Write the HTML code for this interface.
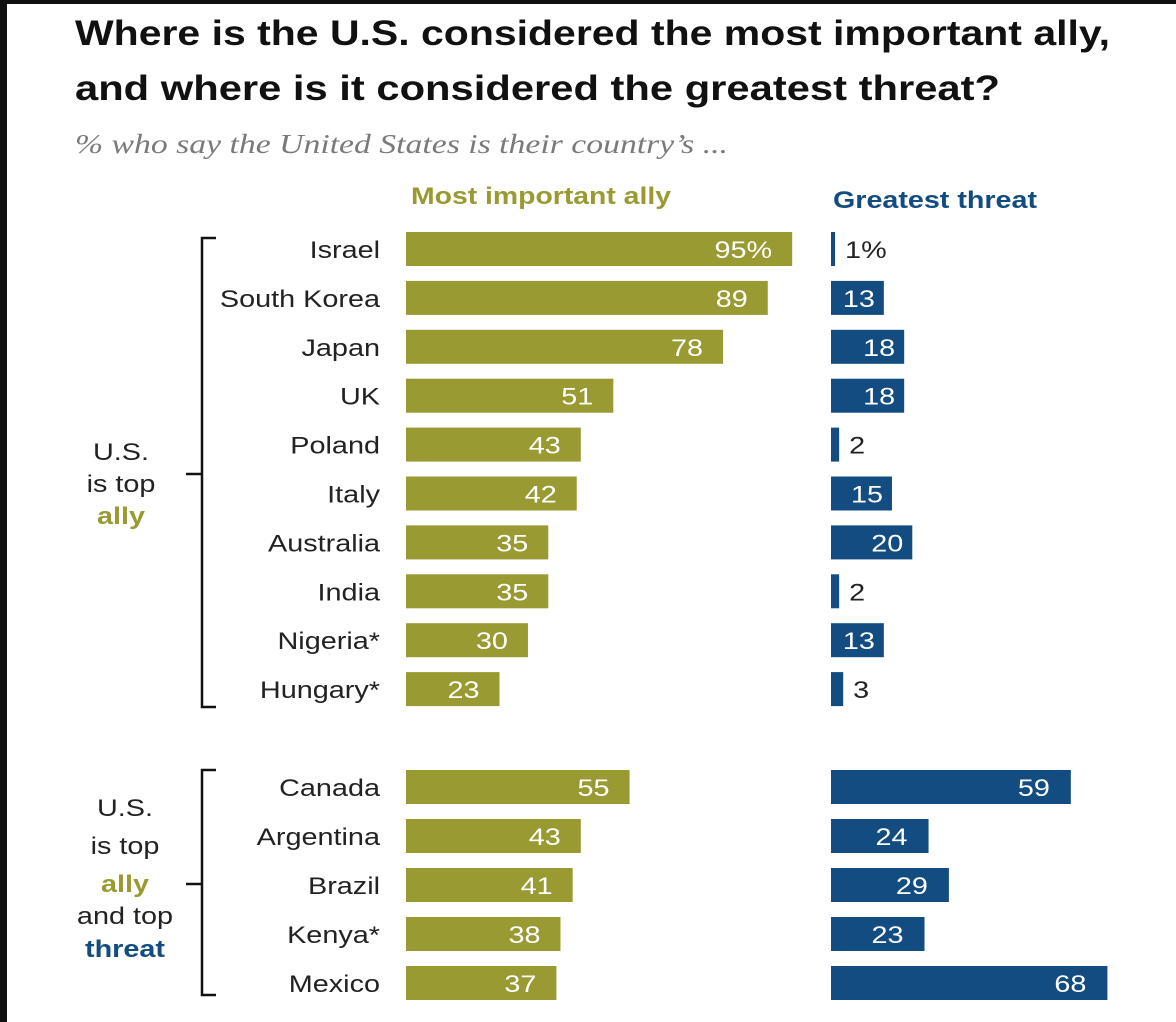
<!DOCTYPE html>
<html><head><meta charset="utf-8"><style>
html,body{margin:0;padding:0;background:#fff;}
svg{display:block;font-family:"Liberation Sans",Arial,sans-serif;}
</style></head><body>
<svg id="chart" width="1176" height="1022" viewBox="0 0 1176 1022">
<rect x="0" y="0" width="1176" height="1022" fill="#fff"/>
<rect x="0" y="0" width="1176" height="4" fill="#111"/>
<rect x="0" y="0" width="7" height="1022" fill="#111"/>
<text x="75" y="45" font-size="35" font-weight="bold" fill="#111" textLength="1035" lengthAdjust="spacingAndGlyphs">Where is the U.S. considered the most important ally,</text>
<text x="75" y="100" font-size="35" font-weight="bold" fill="#111" textLength="925" lengthAdjust="spacingAndGlyphs">and where is it considered the greatest threat?</text>
<text x="75" y="153" font-size="27" font-style="italic" fill="#7a7a7a" font-family="Liberation Serif, serif" textLength="653" lengthAdjust="spacingAndGlyphs">% who say the United States is their country’s ...</text>
<text x="411" y="204" font-size="24" font-weight="bold" fill="#9a9a33" textLength="260" lengthAdjust="spacingAndGlyphs">Most important ally</text>
<text x="833" y="208" font-size="24" font-weight="bold" fill="#134c80" textLength="204" lengthAdjust="spacingAndGlyphs">Greatest threat</text>
<g stroke="#111" stroke-width="2.5" fill="none">
<path d="M216 238 H202 V707 H216"/><path d="M202 474 H186"/>
</g>
<g stroke="#111" stroke-width="2.5" fill="none">
<path d="M216 770 H202 V995 H216"/><path d="M202 884 H186"/>
</g>
<g font-size="24" text-anchor="middle" fill="#222">
<text class="st" x="121" y="460">U.S.</text><text class="st" x="121" y="492">is top</text>
<text class="st" x="121" y="524" fill="#9a9a33" font-weight="bold">ally</text>
</g>
<g font-size="24" text-anchor="middle" fill="#222">
<text class="st" x="125" y="816">U.S.</text><text class="st" x="125" y="854">is top</text>
<text class="st" x="125" y="892" fill="#9a9a33" font-weight="bold">ally</text>
<text class="st" x="125" y="924">and top</text>
<text class="st" x="125" y="957" fill="#134c80" font-weight="bold">threat</text>
</g>
<g id="bars"></g>
</svg>
<script>
const countries = ["Israel","South Korea","Japan","UK","Poland","Italy","Australia","India","Nigeria*","Hungary*","Canada","Argentina","Brazil","Kenya*","Mexico"];
const allyValues = [95,89,78,51,43,42,35,35,30,23,55,43,41,38,37];
const threatValues = [1,13,18,18,2,15,20,2,13,3,59,24,29,23,68];
const groupOf = [0,0,0,0,0,0,0,0,0,0,1,1,1,1,1];

const NS = "http://www.w3.org/2000/svg";
const scale = 4.065;
const allyX = v => 406 + v*scale;
const threatX = v => 831 + v*scale;
const rowY = i => (groupOf[i] === 0 ? 249 + i*48.9 : 787 + (i-10)*49);
const barH = 34;
const g = document.getElementById("bars");
function mk(tag, attrs){const e=document.createElementNS(NS,tag);for(const k in attrs)e.setAttribute(k,attrs[k]);g.appendChild(e);return e;}

countries.forEach((c,i)=>{
  const y = rowY(i);
  const lab = mk("text",{x:380,y:y+9,"font-size":24,"text-anchor":"end",fill:"#222","class":"st"});
  lab.textContent = c;
  
  

  const a = allyValues[i];
  const ab = mk("rect",{x:406,y:y-barH/2,width:allyX(a)-406,height:barH,fill:"#9a9a33"});
  
  
  const at = mk("text",{x:allyX(a)-20,y:y+9,"font-size":24,"text-anchor":"end",fill:"#fff","class":"st"});
  at.textContent = i===0 ? a+"%" : a;
  
  

  const t = threatValues[i];
  const w = Math.max(threatX(t)-831,3);
  const tb = mk("rect",{x:831,y:y-barH/2,width:w,height:barH,fill:"#134c80"});
  
  
  let tt;
  if (t < 10) {
    tt = mk("text",{x:831+w+10,y:y+9,"font-size":24,"text-anchor":"start",fill:"#222","class":"st"});
  } else {
    tt = mk("text",{x:threatX(t)-(t<=20?9:21),y:y+9,"font-size":24,"text-anchor":"end",fill:"#fff","class":"st"});
  }
  tt.textContent = i===0 ? t+"%" : t;
  
  
});

document.querySelectorAll("text.st").forEach(el=>{
  const L = el.getComputedTextLength();
  el.setAttribute("textLength", (L*1.2).toFixed(1));
  el.setAttribute("lengthAdjust", "spacingAndGlyphs");
});
</script>
</body></html>
